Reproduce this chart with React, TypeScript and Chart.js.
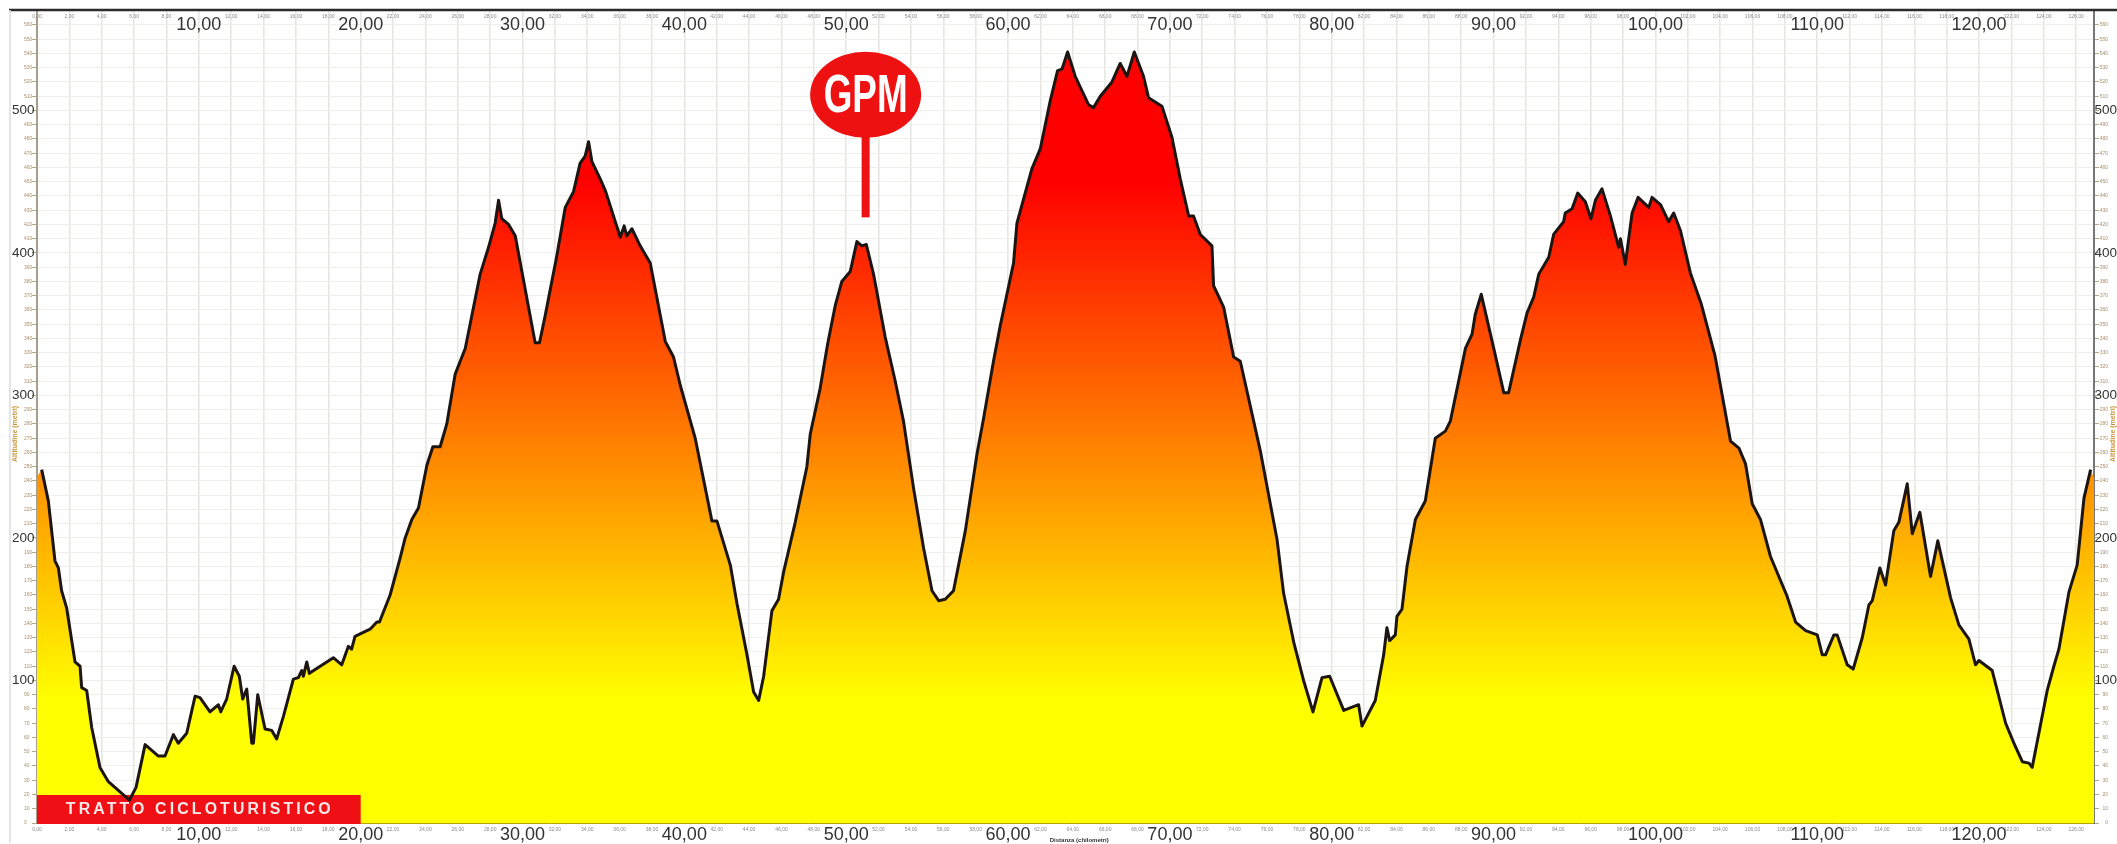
import React, { useEffect, useRef } from "react";
import { Chart, registerables } from "chart.js";

Chart.register(...registerables);

const kmPoints = [0.29,0.7,1.11,1.32,1.52,1.83,2.35,2.66,2.76,3.07,3.38,3.89,4.41,4.92,5.71,6.12,6.68,7.5,7.91,8.43,8.73,9.25,9.77,10.07,10.69,11.21,11.35,11.72,12.18,12.5,12.71,12.96,13.27,13.37,13.64,14.09,14.5,14.81,15.23,15.84,16.15,16.36,16.46,16.67,16.83,18.31,18.83,19.24,19.44,19.65,20.58,21.0,21.16,21.82,22.44,22.75,23.16,23.57,24.09,24.46,24.91,25.32,25.84,26.46,27.38,27.9,28.31,28.52,28.72,29.14,29.55,30.78,31.05,31.4,32.12,32.64,33.15,33.56,33.87,34.08,34.29,34.8,35.11,36.04,36.28,36.44,36.76,37.27,37.89,38.82,39.33,39.75,40.67,41.7,42.01,42.84,43.25,43.87,44.28,44.59,44.9,45.41,45.82,46.13,46.85,47.57,47.78,48.39,48.85,49.32,49.73,50.25,50.66,50.97,51.24,51.69,52.41,53.03,53.54,54.16,54.78,55.3,55.71,56.12,56.63,57.36,58.08,58.49,59.1,59.52,60.34,60.55,61.47,61.99,62.61,63.06,63.33,63.68,64.15,64.98,65.28,65.7,66.42,66.93,67.35,67.8,68.37,68.68,69.51,70.13,70.64,71.16,71.46,71.88,72.6,72.7,73.32,73.94,74.35,75.59,76.62,77.03,77.65,78.26,78.84,79.4,79.87,80.74,81.66,81.87,82.69,83.21,83.41,83.58,83.93,84.03,84.34,84.65,85.17,85.78,86.4,87.02,87.33,88.26,88.67,88.87,89.24,90.01,90.63,90.93,91.66,92.07,92.48,92.79,93.41,93.71,94.33,94.43,94.85,95.2,95.67,96.02,96.29,96.7,97.22,97.73,97.84,98.14,98.56,98.93,99.59,99.79,100.31,100.82,101.13,101.54,102.16,102.84,103.68,104.64,105.16,105.57,105.98,106.49,107.11,108.14,108.66,109.28,110.0,110.31,110.51,111.03,111.23,111.85,112.22,112.78,113.19,113.4,113.87,114.22,114.73,115.04,115.56,115.87,116.34,117.0,117.45,118.24,118.75,119.37,119.78,119.99,120.81,121.64,122.15,122.67,123.08,123.28,124.21,124.62,124.93,125.55,126.06,126.48,126.89];
const altitudes = [248,226,184,179,163,151,113,110,95,93,67,39,29,24,16,25,55,47,47,62,56,63,89,88,78,83,78,87,110,103,87,94,56,56,90,66,65,59,75,101,102,107,103,113,105,116,111,124,122,131,136,141,141,160,186,200,213,221,251,264,264,280,315,333,385,404,421,437,424,420,412,337,337,356,398,432,443,463,468,478,464,452,444,411,419,412,417,405,393,338,327,307,270,212,212,181,154,118,92,86,103,149,157,176,211,250,273,305,336,363,380,387,408,405,406,385,341,310,282,235,193,163,156,157,163,205,259,284,324,349,393,421,459,473,507,528,529,541,524,504,502,510,520,533,524,541,524,509,503,481,452,426,426,413,405,377,362,327,324,261,199,161,127,100,78,102,103,79,83,68,86,118,137,128,132,145,150,180,213,226,270,275,282,333,343,357,371,333,302,302,339,358,369,385,397,413,422,428,431,442,436,424,437,445,426,404,410,392,428,439,432,439,434,422,428,416,386,364,328,268,263,252,224,213,187,159,141,135,132,118,118,132,132,111,108,130,153,156,179,167,205,211,238,203,218,173,198,158,139,129,111,114,107,70,56,43,42,39,93,110,122,162,181,228,248];

const X_MAX = 127.1;
const Y_MAX = 570.5;
const TICK_KM = Array.from({ length: 64 }, (_, i) => i * 2);
const START_EDGE = { x: 0, y: 243 };
const END_EDGE = { x: X_MAX, y: 242 };
const GRADIENT_YELLOW_ALT = 86;
const GRADIENT_RED_ALT = 450;
const GPM_KM = 51.2;
const GPM_TITLE = "GPM";
const BANNER_TITLE = "TRATTO CICLOTURISTICO";
const BANNER_END_KM = 20;
const X_TITLE = "Distanza (chilometri)";
const Y_TITLE = "Altitudine (metri)";

const SANS = '"Liberation Sans", Arial, sans-serif';
const fmt = (v: number) => v.toFixed(2).replace(".", ",");
const isBigX = (v: number) => v > 0 && v % 10 === 0;
const isBigY = (v: number) => v > 0 && v % 100 === 0;

const SMALL_COLOR = "#8a8a8a";
const BIG_COLOR = "#333333";
const SMALL_Y_COLOR = "#a8906a";

const zeroPad = (s: any) => {
  s.paddingTop = 0;
  s.paddingBottom = 0;
  s.paddingLeft = 0;
  s.paddingRight = 0;
};

const xAxisBase = {
  min: 0,
  max: X_MAX,
  type: "linear" as const,
  border: { display: false },
  grid: { display: false },
  afterBuildTicks: (s: any) => { s.ticks = TICK_KM.map((v) => ({ value: v })); },
  afterFit: (s: any) => { s.height = 0; zeroPad(s); },
};
const xSmallTicks = (padding: number) => ({
  autoSkip: false, maxRotation: 0, mirror: true, padding, color: SMALL_COLOR,
  font: { size: 5, family: SANS },
  callback: (v: any) => (isBigX(v) ? "" : fmt(v)),
});
const xBigTicks = (padding: number) => ({
  autoSkip: false, maxRotation: 0, mirror: true, padding, color: BIG_COLOR,
  font: { size: 18, family: SANS },
  callback: (v: any) => (isBigX(v) ? fmt(v) : ""),
});

const yAxisBase = {
  type: "linear" as const,
  min: 0,
  max: Y_MAX,
  afterFit: (s: any) => { s.width = 0; zeroPad(s); },
  afterBuildTicks: (s: any) => { s.ticks = s.ticks.filter((t: any) => t.value <= 560); },
};
const ySmallTicks = (padding: number) => ({
  stepSize: 10, autoSkip: false, mirror: true, padding, color: SMALL_Y_COLOR,
  font: { size: 5, family: SANS },
  callback: (v: any) => (isBigY(v) ? "" : String(v)),
});
const yBigTicks = (padding: number) => ({
  stepSize: 10, autoSkip: false, mirror: true, padding, color: BIG_COLOR,
  font: { size: 13.5, family: SANS },
  callback: (v: any) => (isBigY(v) ? String(v) : ""),
});

const overlayPlugin = {
  id: "overlay",
  afterDatasetDraw(chart: any, args: any) {
    if (args.index !== 0) return;
    const { ctx, scales } = chart;
    const x0 = scales.x.getPixelForValue(0);
    const x1 = scales.x.getPixelForValue(BANNER_END_KM);
    const yB = scales.y.getPixelForValue(0);
    ctx.save();
    ctx.fillStyle = "#f00f14";
    ctx.fillRect(x0, yB - 28, x1 - x0, 29);
    ctx.fillStyle = "#fbeaea";
    ctx.font = `bold 16px ${SANS}`;
    ctx.textAlign = "center";
    ctx.textBaseline = "middle";
    (ctx as any).letterSpacing = "3.2px";
    ctx.fillText(BANNER_TITLE, (x0 + x1) / 2 + 1, yB - 13, 268);
    ctx.restore();
  },
  afterDraw(chart: any) {
    const { ctx, chartArea, scales } = chart;
    ctx.save();
    ctx.strokeStyle = "#2b2b2b";
    ctx.lineWidth = 2.5;
    ctx.beginPath();
    ctx.moveTo(9, chartArea.top);
    ctx.lineTo(chart.width, chartArea.top);
    ctx.stroke();
    ctx.strokeStyle = "#dcdcdc";
    ctx.lineWidth = 1.5;
    ctx.beginPath();
    ctx.moveTo(10, chartArea.top);
    ctx.lineTo(10, chartArea.bottom + 20);
    ctx.stroke();

    const cx = scales.x.getPixelForValue(GPM_KM);
    const cy = scales.y.getPixelForValue(511);
    ctx.fillStyle = "#ee1111";
    ctx.fillRect(cx - 4, cy + 30, 8, scales.y.getPixelForValue(425) - cy - 30);
    ctx.beginPath();
    ctx.ellipse(cx, cy, 55.5, 43, 0, 0, Math.PI * 2);
    ctx.fill();
    ctx.fillStyle = "#fff";
    ctx.font = `bold 54px ${SANS}`;
    ctx.textAlign = "center";
    ctx.textBaseline = "middle";
    ctx.fillText(GPM_TITLE, cx, cy + 2, 84);

    ctx.fillStyle = "#333";
    ctx.font = `bold 6px ${SANS}`;
    ctx.fillText(X_TITLE, scales.x.getPixelForValue(64.4), chartArea.bottom + 17, 72);

    ctx.fillStyle = "#c8963c";
    ctx.font = `bold 7px ${SANS}`;
    for (const px of [15, chart.width - 4]) {
      ctx.save();
      ctx.translate(px, scales.y.getPixelForValue(273));
      ctx.rotate(-Math.PI / 2);
      ctx.fillText(Y_TITLE, 0, 0, 62);
      ctx.restore();
    }
    ctx.restore();
  },
};

export default function App() {
  const ref = useRef<HTMLCanvasElement | null>(null);
  useEffect(() => {
    if (!ref.current) return;
    const line = kmPoints.map((x, i) => ({ x, y: altitudes[i] }));
    const chart = new Chart(ref.current, {
      type: "line",
      plugins: [overlayPlugin],
      data: {
        datasets: [
          {
            label: "fill",
            data: [START_EDGE, ...line, END_EDGE],
            borderWidth: 0,
            pointRadius: 0,
            tension: 0,
            fill: "origin",
            order: 2,
            xAxisID: "x",
            yAxisID: "y",
            backgroundColor: (c: any) => {
              const { chart: ch } = c;
              if (!ch.chartArea) return "#ff0";
              const y = ch.scales.y;
              const g = ch.ctx.createLinearGradient(0, y.getPixelForValue(GRADIENT_YELLOW_ALT), 0, y.getPixelForValue(GRADIENT_RED_ALT));
              g.addColorStop(0, "#ffff00");
              g.addColorStop(1, "#ff0000");
              return g;
            },
          },
          {
            label: "profile",
            data: line,
            borderColor: "#1c1512",
            borderWidth: 3,
            borderJoinStyle: "round",
            pointRadius: 0,
            tension: 0,
            fill: false,
            order: 1,
            xAxisID: "x",
            yAxisID: "y",
            clip: false,
          },
        ],
      },
      options: {
        animation: false,
        responsive: false,
        parsing: false,
        normalized: true,
        layout: { padding: { left: 37, right: 23, top: 10, bottom: 21 } },
        plugins: { legend: { display: false }, tooltip: { enabled: false }, title: { display: false } },
        scales: {
          x: {
            ...xAxisBase,
            position: "bottom",
            grid: { display: true, color: "#e6e6e3", lineWidth: 1.6, drawTicks: false },
            border: { display: true, color: "#b8a400", width: 1 },
            ticks: xSmallTicks(-10),
          },
          xBottomBig: { ...xAxisBase, position: "bottom", ticks: xBigTicks(-23) },
          xTop: { ...xAxisBase, position: "top", ticks: xSmallTicks(3.5) },
          xTopBig: { ...xAxisBase, position: "top", ticks: xBigTicks(4) },
          y: {
            ...yAxisBase,
            position: "left",
            grid: { color: "#efefec", lineWidth: 1, drawTicks: true, tickLength: 5, tickColor: "#b5a78a" },
            border: { display: true, color: "#a89f8a", width: 2 },
            ticks: ySmallTicks(-13),
          },
          yLeftBig: {
            ...yAxisBase,
            position: "left",
            grid: { display: false },
            border: { display: false },
            ticks: yBigTicks(-25),
          },
          yRight: {
            ...yAxisBase,
            position: "right",
            grid: { display: true, drawOnChartArea: false, tickLength: 5, tickColor: "#b5a78a" },
            border: { display: true, color: "#777", width: 2 },
            ticks: ySmallTicks(14),
          },
          yRightBig: {
            ...yAxisBase,
            position: "right",
            grid: { display: false },
            border: { display: false },
            ticks: yBigTicks(23),
          },
        },
      } as any,
    });
    return () => chart.destroy();
  }, []);
  return (
    <div style={{ position: "absolute", left: 0, top: 0, width: 2117, height: 844, background: "#fff", overflow: "hidden" }}>
      <canvas ref={ref} width={2117} height={844} style={{ display: "block", width: 2117, height: 844 }} />
    </div>
  );
}
